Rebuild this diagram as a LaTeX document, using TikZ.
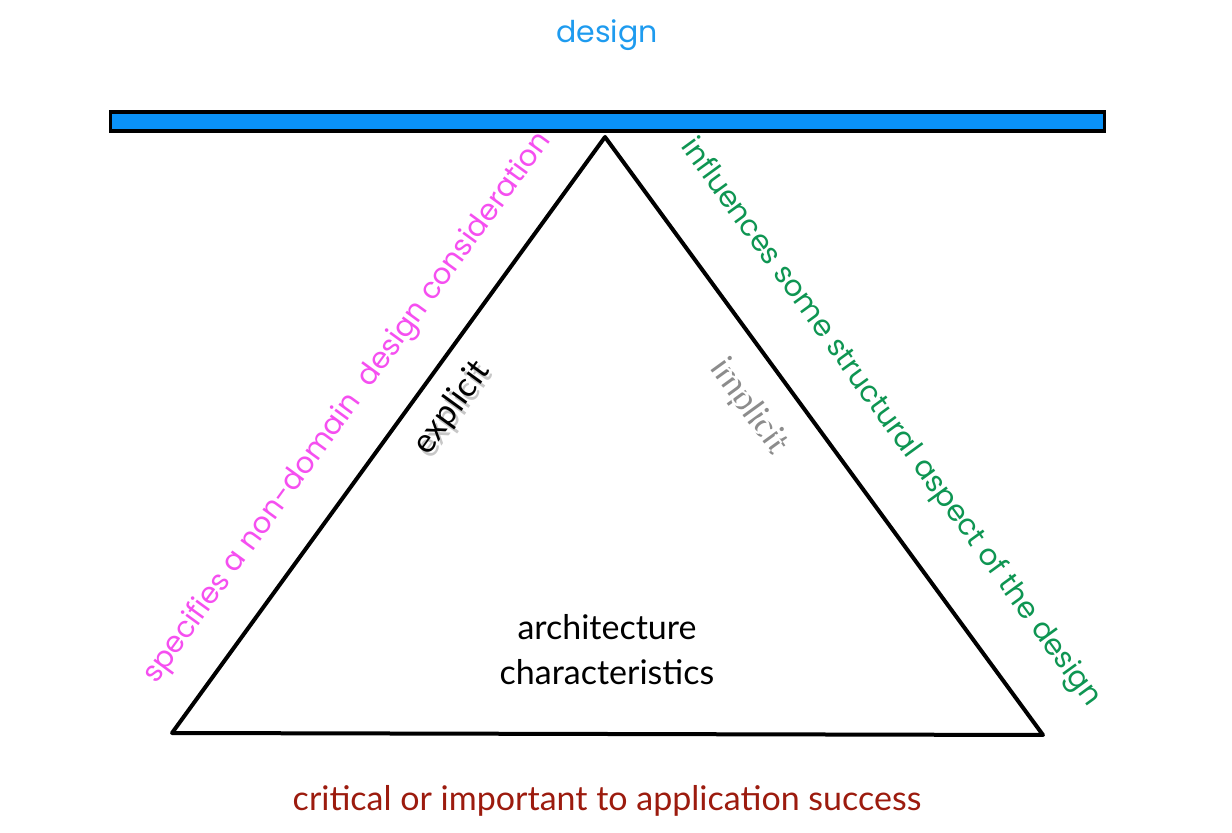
\documentclass[tikz,border=0pt]{standalone}
\usepackage{fontspec}
\setmainfont{Lato}
\newfontfamily\geofont{Poppins}
\usetikzlibrary{positioning, calc}

\definecolor{barblue}{HTML}{0A92F8}
\definecolor{designblue}{HTML}{1E9BEF}
\definecolor{pinkside}{HTML}{F54FF0}
\definecolor{greenside}{HTML}{0E9552}
\definecolor{basered}{HTML}{9C1B0E}

\begin{document}
\begin{tikzpicture}[x=0.5pt, y=-0.5pt,
    lbl/.style={font=\fontsize{17}{22.5}\selectfont, inner sep=0pt, align=center},
    geo/.style={font=\geofont\fontsize{14.6}{16}\selectfont, inner sep=0pt},
    edge/.style={line width=2pt, line cap=round, line join=round},
    bar/.style={draw, fill=barblue, line width=1.8pt},
    shade/.style={text=black, opacity=0.22},
]
\useasboundingbox (0,0) rectangle (1232,833);

% === top: design bar ===
\node[geo, font=\geofont\fontsize{15}{16}\selectfont, text=designblue] (design) at (607,35) {design};
\node[bar, minimum width=497pt, minimum height=9.5pt, inner sep=0pt] (plank) at (607.5,121.5) {};

% === triangle ===
\coordinate (apex) at (605,137);
\coordinate (bl) at (172,733);
\coordinate (br) at (1043,735);
\draw[edge] (apex) -- (bl) -- (br) -- cycle;

% side labels
\node[geo, text=pinkside, rotate=54] (spec) at (348,408) {specifies a non-domain\ \ design consideration};
\node[geo, text=greenside, rotate=-54] (infl) at (890,423) {influences some structural aspect of the design};

% explicit / implicit with shadow
\node[lbl, shade, rotate=54] at (455,412) {explicit};
\node[lbl, shade, opacity=0.45, rotate=-54] at (749,407) {implicit};
\node[lbl, rotate=54] (expl) at (452,408) {explicit};
\node[lbl, text=white, rotate=-54] (impl) at (746,404) {implicit};

% center + bottom
\node[lbl] (arch) at (607,650) {architecture\\characteristics};
\node[lbl, text=basered] (crit) at (607,801) {critical or important to application success};

\end{tikzpicture}
\end{document}
